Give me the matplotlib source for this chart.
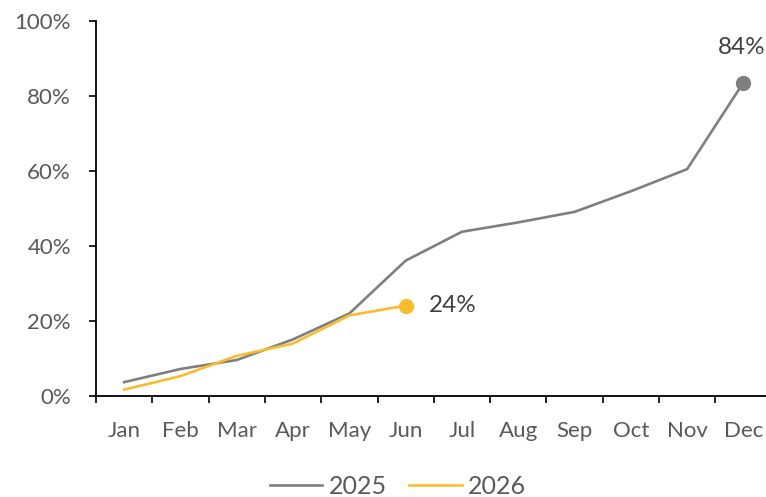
import matplotlib
matplotlib.use("Agg")
import matplotlib.pyplot as plt
import matplotlib.ticker as ticker

months = ["Jan", "Feb", "Mar", "Apr", "May", "Jun", "Jul", "Aug", "Sep", "Oct", "Nov", "Dec"]
vals_2025 = [3.7, 7.2, 9.6, 15.1, 22.0, 36.1, 43.8, 46.3, 49.1, 54.6, 60.5, 83.6]
vals_2026 = [1.7, 5.3, 10.7, 14.0, 21.5, 24.1]

GREY = "#7f7f7f"
YELLOW = "#fbbc2c"
TXT = "#595959"

plt.rcParams['font.family'] = ['Lato', 'DejaVu Sans']

fig = plt.figure(figsize=(7.66, 4.97), dpi=100)
ax = fig.add_axes([96/766, 1 - 396/497, 675.6/766, 375/497])

x25 = list(range(len(vals_2025)))
x26 = list(range(len(vals_2026)))
ax.plot(x25, vals_2025, color=GREY, lw=1.9, label="2025", solid_joinstyle="round")
ax.plot(x26, vals_2026, color=YELLOW, lw=1.9, label="2026", solid_joinstyle="round")
ax.plot(x25[-1], vals_2025[-1], 'o', color=GREY, ms=10)
ax.plot(x26[-1], vals_2026[-1], 'o', color=YELLOW, ms=10)

ax.annotate(f"{vals_2025[-1]:.0f}%", (x25[-1], vals_2025[-1]), xytext=(-1, 25),
            textcoords="offset points", ha="center", va="center", fontsize=17.5, color="#404040")
ax.annotate(f"{vals_2026[-1]:.0f}%", (x26[-1], vals_2026[-1]), xytext=(16.5, 0),
            textcoords="offset points", ha="left", va="center", fontsize=17.5, color="#404040")

ax.set_xlim(-0.5, 11.5)
ax.set_ylim(0, 100)
ax.yaxis.set_major_locator(ticker.MultipleLocator(20))
ax.yaxis.set_major_formatter(ticker.FuncFormatter(lambda v, p: f"{v:.0f}%"))

# ticks between categories, labels at category centers
ax.set_xticks([i - 0.5 for i in range(12)])
ax.set_xticklabels([])
ax.set_xticks(x25, minor=True)
ax.set_xticklabels(months, minor=True)
ax.tick_params(axis="x", which="minor", length=0, pad=18, labelsize=16, labelcolor=TXT)
ax.tick_params(axis="x", which="major", length=5, width=1.2, direction="out", color="black")
ax.tick_params(axis="y", length=5, width=1.2, direction="out", pad=13, labelsize=16, labelcolor=TXT)

for s in ["top", "right"]:
    ax.spines[s].set_visible(False)
for s in ["left", "bottom"]:
    ax.spines[s].set_linewidth(1.3)
    ax.spines[s].set_color("black")

fig.legend(loc="center", bbox_to_anchor=(398/766, 1 - 486/497), ncol=2, frameon=False,
           fontsize=18, labelcolor=TXT, handlelength=2.1, handletextpad=0.25, columnspacing=0.9)

fig.savefig("out.png", dpi=100)
